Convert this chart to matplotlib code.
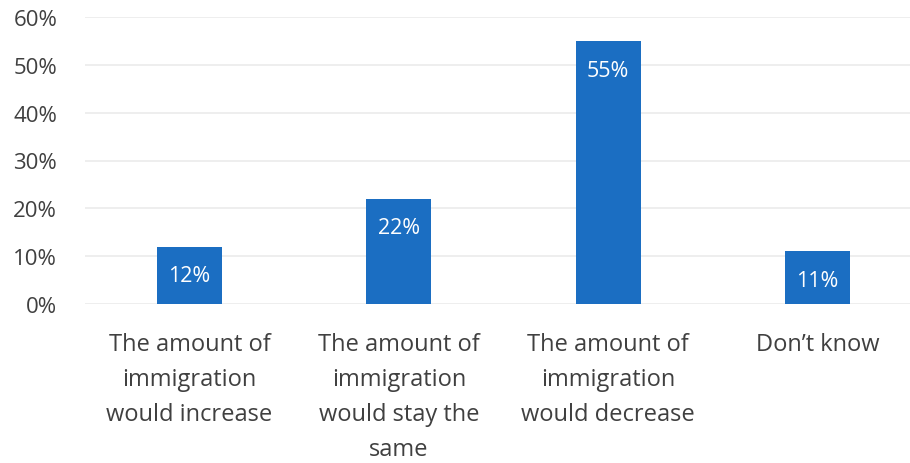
import matplotlib
matplotlib.use('Agg')
import matplotlib.pyplot as plt

# Survey answers and shares (%)
categories = ['The amount of\nimmigration\nwould increase',
              'The amount of\nimmigration\nwould stay the\nsame',
              'The amount of\nimmigration\nwould decrease',
              'Don\u2019t know']
values = [12, 22, 55, 11]
y_ticks = [0, 10, 20, 30, 40, 50, 60]

plt.rcParams['font.family'] = ['Open Sans', 'DejaVu Sans']
text_color = '#404040'
bar_color = '#1b6ec2'

fig = plt.figure(figsize=(9.1, 4.64), dpi=100)
ax = fig.add_axes([85 / 910, 159 / 464, 837 / 910, 287 / 464])

x = range(len(categories))
bars = ax.bar(x, values, width=0.31, color=bar_color, zorder=3)

for rect, v in zip(bars, values):
    ax.annotate(f'{v}%', (rect.get_x() + rect.get_width() / 2, v),
                xytext=(0, -21), textcoords='offset points',
                ha='center', va='center', color='white', fontsize=15.5, zorder=4)

ax.set_xlim(-0.5, len(categories) - 0.5)
ax.set_ylim(0, 60)
ax.set_yticks(y_ticks)
ax.set_yticklabels([f'{t}%' for t in y_ticks])
ax.yaxis.grid(True, color='#ebebeb', linewidth=1.2, zorder=0)
ax.set_xticks(list(x))
ax.set_xticklabels(categories, linespacing=1.62, va='top')

for s in ax.spines.values():
    s.set_visible(False)
ax.tick_params(axis='y', length=0, pad=20, labelsize=16, labelcolor=text_color)
ax.tick_params(axis='x', length=0, pad=20, labelsize=17, labelcolor=text_color)

fig.savefig('out.png', dpi=100)
